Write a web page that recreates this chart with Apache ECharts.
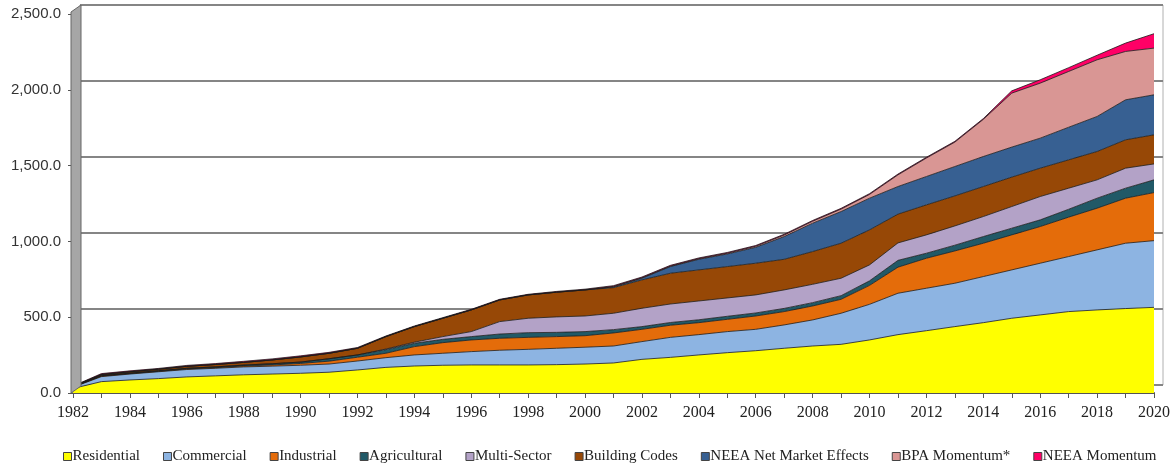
<!DOCTYPE html>
<html>
<head>
<meta charset="utf-8">
<title>Cumulative savings</title>
<script src="https://cdn.jsdelivr.net/npm/echarts@6/dist/echarts.min.js"></script>
<style>
  html, body { margin: 0; padding: 0; background: #fff; }
  #chart { width: 1173px; height: 465px; }
</style>
</head>
<body>
<div id="chart"></div>
<script>
// years on the x axis
const years = []
for (let y = 1982; y <= 2020; y++) years.push(String(y))

// y axis ticks
const yMin = 0
const yMax = 2500
const yStep = 500

// stacked series values (one per year, 1982..2020)
const residential = [30, 75, 86, 95, 106, 113, 120, 125, 130, 137, 152, 169, 178, 183, 185, 185, 185, 187, 191, 198,
  222, 235, 251, 266, 279, 295, 310, 321, 350, 385, 411, 438, 464, 493, 515, 537, 548, 557, 565]
const commercial = [8, 33, 39, 45, 49, 50, 52, 52, 53, 54, 59, 64, 73, 79, 88, 97, 103, 108, 111, 112,
  117, 132, 134, 139, 141, 154, 172, 205, 235, 273, 280, 286, 304, 319, 341, 363, 396, 431, 440]
const industrial = [2, 4, 3, 3, 4, 4, 6, 8, 12, 19, 25, 29, 55, 70, 77, 79, 79, 77, 76, 86,
  81, 80, 79, 81, 88, 88, 92, 92, 125, 172, 198, 213, 220, 231, 242, 260, 275, 297, 317]
const agricultural = [1, 2, 3, 4, 4, 5, 6, 8, 9, 16, 15, 24, 22, 22, 22, 28, 31, 28, 27, 22,
  18, 18, 19, 20, 20, 21, 22, 24, 30, 45, 33, 38, 44, 44, 44, 52, 66, 66, 84]
const multiSector = [0, 0, 0, 0, 0, 0, 0, 0, 0, 0, 0, 4, 7, 18, 33, 82, 95, 102, 103, 108,
  121, 122, 124, 121, 119, 122, 121, 115, 105, 115, 121, 127, 132, 143, 154, 139, 121, 132, 105]
const buildingCodes = [2, 8, 9, 10, 13, 16, 18, 25, 34, 36, 44, 82, 103, 121, 143, 143, 154, 163, 172, 169,
  187, 203, 205, 207, 209, 202, 216, 231, 231, 190, 198, 198, 198, 194, 187, 187, 187, 187, 192]
const neeaNet = [0, 0, 0, 0, 0, 0, 0, 0, 0, 0, 0, 0, 0, 0, 0, 0, 0, 0, 0, 5,
  11, 44, 70, 83, 105, 150, 187, 209, 209, 182, 187, 194, 198, 198, 198, 215, 231, 264, 264]
const bpaMomentum = [0, 0, 0, 0, 0, 0, 0, 0, 0, 0, 0, 0, 0, 0, 0, 0, 0, 0, 0, 3,
  3, 3, 4, 5, 7, 10, 13, 16, 25, 77, 122, 161, 245, 356, 363, 368, 374, 319, 308]
const neeaMomentum = [3, 6, 6, 5, 6, 6, 7, 7, 7, 6, 5, 4, 4, 4, 4, 4, 4, 5, 5, 5,
  5, 5, 5, 5, 5, 5, 5, 5, 5, 5, 5, 5, 5, 15, 22, 25, 30, 55, 95]

const seriesNames = ['Residential', 'Commercial', 'Industrial', 'Agricultural', 'Multi-Sector',
  'Building Codes', 'NEEA Net Market Effects', 'BPA Momentum*', 'NEEA Momentum']
const seriesData = [residential, commercial, industrial, agricultural, multiSector,
  buildingCodes, neeaNet, bpaMomentum, neeaMomentum]
const colors = ['#FFFF00', '#8DB4E2', '#E46C0A', '#215967', '#B3A2C7',
  '#974806', '#376092', '#D99694', '#FF0066']

const fmt = (v) => v.toLocaleString('en-US', {minimumFractionDigits: 1, maximumFractionDigits: 1})

const chart = echarts.init(document.getElementById('chart'), null, {renderer: 'canvas'})

const option = {
  animation: false,
  color: colors,
  grid: [
    // front plane: the areas
    {left: 73, right: 15, top: 14, bottom: 72},
    // back wall: gridlines only
    {left: 80, right: 10, top: 5, bottom: 80, show: true, borderColor: '#b0b0b0', borderWidth: 1}
  ],
  xAxis: [
    {
      gridIndex: 0,
      type: 'category',
      data: years,
      boundaryGap: false,
      axisLine: {lineStyle: {color: '#555', width: 2}},
      axisTick: {show: true, interval: 0, length: 5, lineStyle: {color: '#555'}},
      axisLabel: {
        interval: 1,
        margin: 12,
        fontFamily: 'Liberation Serif',
        fontSize: 16,
        color: '#222'
      },
      splitLine: {show: false}
    },
    {gridIndex: 1, type: 'value', min: 0, max: 1, show: false}
  ],
  yAxis: [
    {
      gridIndex: 0,
      type: 'value',
      min: yMin,
      max: yMax,
      interval: yStep,
      axisLine: {show: false},
      axisTick: {show: true, length: 5, lineStyle: {color: '#555'}},
      axisLabel: {
        margin: 12,
        fontFamily: 'Liberation Sans',
        fontSize: 15,
        color: '#333',
        formatter: fmt
      },
      splitLine: {show: false}
    },
    {
      gridIndex: 1,
      type: 'value',
      min: yMin,
      max: yMax,
      interval: yStep,
      axisLine: {show: false},
      axisTick: {show: false},
      axisLabel: {show: false},
      splitLine: {show: true, lineStyle: {color: '#858585', width: 2}}
    }
  ],
  legend: {
    data: seriesNames,
    left: 58,
    top: 444,
    icon: 'rect',
    itemWidth: 8,
    itemHeight: 8,
    itemGap: 23,
    itemStyle: {borderColor: '#444', borderWidth: 1},
    textStyle: {fontFamily: 'Liberation Serif', fontSize: 15, color: '#222', padding: [0, 0, 0, -4]}
  },
  graphic: [
    {
      // grey side wall of the 3D frame
      type: 'polygon',
      z: 10,
      shape: {points: [[71, 393], [71, 12], [81, 5], [81, 386]]},
      style: {fill: '#a6a6a6', stroke: '#666', lineWidth: 1}
    }
  ],
  series: seriesNames.map((name, i) => ({
    name: name,
    type: 'line',
    xAxisIndex: 0,
    yAxisIndex: 0,
    stack: 'total',
    data: seriesData[i],
    showSymbol: false,
    symbol: 'none',
    lineStyle: {color: '#1a1a1a', width: 0.8},
    areaStyle: {color: colors[i], opacity: 1},
    itemStyle: {color: colors[i]}
  }))
}

chart.setOption(option)
</script>
</body>
</html>
